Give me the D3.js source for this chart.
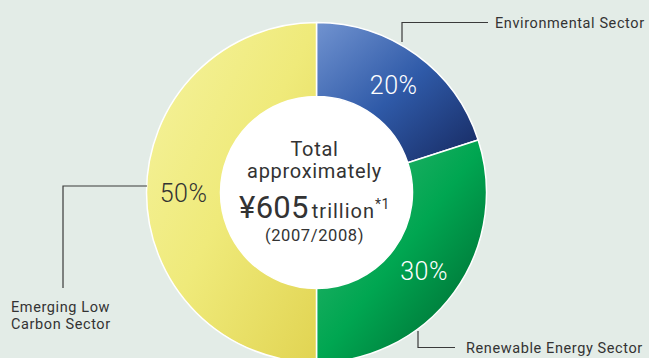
<!DOCTYPE html>
<html>
<head>
<meta charset="utf-8">
<script src="https://cdn.jsdelivr.net/npm/d3@7"></script>
<style>
  html, body { margin: 0; padding: 0; background: #e3ece7; }
  svg { display: block; font-family: Roboto, "Noto Sans", sans-serif; }
</style>
</head>
<body>
<svg id="chart" width="649" height="358"></svg>
<script>
// Market sectors, clockwise from 12 o'clock
const sectors = ["Environmental Sector", "Renewable Energy Sector", "Emerging Low Carbon Sector"];
const shares = [20, 30, 50];
const shareLabels = ["20%", "30%", "50%"];
const shareLabelColors = ["#ffffff", "#ffffff", "#333333"];
// gradient stops per slice: light corner -> mid -> dark corner
const sliceColors = [
  ["#7193d0", "#2f5aa8", "#16285f"],
  ["#3bb874", "#00a651", "#005f2c"],
  ["#f5f39f", "#efea7a", "#e1d452"]
];
const centerLines = ["Total", "approximately"];
const totalValue = "¥605";
const totalUnit = "trillion";
const totalNote = "*1";
const period = "(2007/2008)";

const svg = d3.select("#chart");
const cx = 316.5, cy = 192.5;
const outerR = 170, innerR = 96;

const defs = svg.append("defs");
sliceColors.forEach((c, i) => {
  const g = defs.append("linearGradient")
    .attr("id", "grad" + i)
    .attr("x1", "0").attr("y1", "0").attr("x2", "1").attr("y2", "1");
  g.append("stop").attr("offset", "0%").attr("stop-color", c[0]);
  g.append("stop").attr("offset", "50%").attr("stop-color", c[1]);
  g.append("stop").attr("offset", "100%").attr("stop-color", c[2]);
});

const pie = d3.pie().sort(null).value(d => d)(shares);
const arc = d3.arc().innerRadius(innerR).outerRadius(outerR);

const g = svg.append("g").attr("transform", `translate(${cx},${cy})`);

// white disc behind the centre text
g.append("circle").attr("r", innerR).attr("fill", "#ffffff");

g.selectAll("path.slice")
  .data(pie)
  .join("path")
  .attr("class", "slice")
  .attr("d", arc)
  .attr("fill", (d, i) => `url(#grad${i})`)
  .attr("stroke", "#ffffff")
  .attr("stroke-width", 1.5);

// percentage labels placed on the ring centroid
const labelArc = d3.arc().innerRadius(innerR).outerRadius(outerR);
const labelOffsets = [[-1, 0], [0, 0], [0, 0]];
g.selectAll("text.pct")
  .data(pie)
  .join("text")
  .attr("class", "pct")
  .attr("x", (d, i) => labelArc.centroid(d)[0] + labelOffsets[i][0])
  .attr("y", (d, i) => labelArc.centroid(d)[1] + labelOffsets[i][1])
  .attr("text-anchor", "middle")
  .attr("dy", "0.36em")
  .attr("font-size", 25)
  .attr("font-weight", 300)
  .attr("letter-spacing", 0.5)
  .attr("fill", (d, i) => shareLabelColors[i])
  .text((d, i) => shareLabels[i]);

// centre text
const ct = g.append("g").attr("fill", "#333333").attr("text-anchor", "middle").attr("letter-spacing", 0.7);
ct.append("text").attr("x", -2).attr("y", -37).attr("font-size", 20).text(centerLines[0]);
ct.append("text").attr("x", -2).attr("y", -15).attr("font-size", 20).text(centerLines[1]);
const big = ct.append("text").attr("x", -2).attr("y", 25);
big.append("tspan").attr("font-size", 31).attr("letter-spacing", 0.3).text(totalValue);
big.append("tspan").attr("font-size", 20).attr("dx", 3).attr("letter-spacing", 1).text(totalUnit);
big.append("tspan").attr("font-size", 14).attr("dy", -9).attr("letter-spacing", 0.5).text(totalNote);
ct.append("text").attr("x", -2).attr("y", 48).attr("font-size", 16.5).attr("letter-spacing", 0.6).text(period);

// leader lines and sector names
const leaders = [
  { pts: [[402, 42], [402, 22.5], [488, 22.5]], label: [sectors[0]], x: 495, y: 28 },
  { pts: [[418, 331], [418, 347.5], [455, 347.5]], label: [sectors[1]], x: 466, y: 353 },
  { pts: [[147, 186], [63, 186], [63, 288]], label: ["Emerging Low", "Carbon Sector"], x: 11, y: 311.5 }
];
const line = d3.line();
svg.selectAll("path.leader")
  .data(leaders)
  .join("path")
  .attr("class", "leader")
  .attr("d", d => line(d.pts))
  .attr("fill", "none")
  .attr("stroke", "#3a3a3a")
  .attr("stroke-width", 1.2);

leaders.forEach(l => {
  const t = svg.append("text")
    .attr("x", l.x).attr("y", l.y)
    .attr("font-size", 14.5)
    .attr("letter-spacing", 0.6)
    .attr("fill", "#333333");
  l.label.forEach((s, i) => {
    t.append("tspan").attr("x", l.x).attr("dy", i === 0 ? 0 : 17).text(s);
  });
});
</script>
</body>
</html>
